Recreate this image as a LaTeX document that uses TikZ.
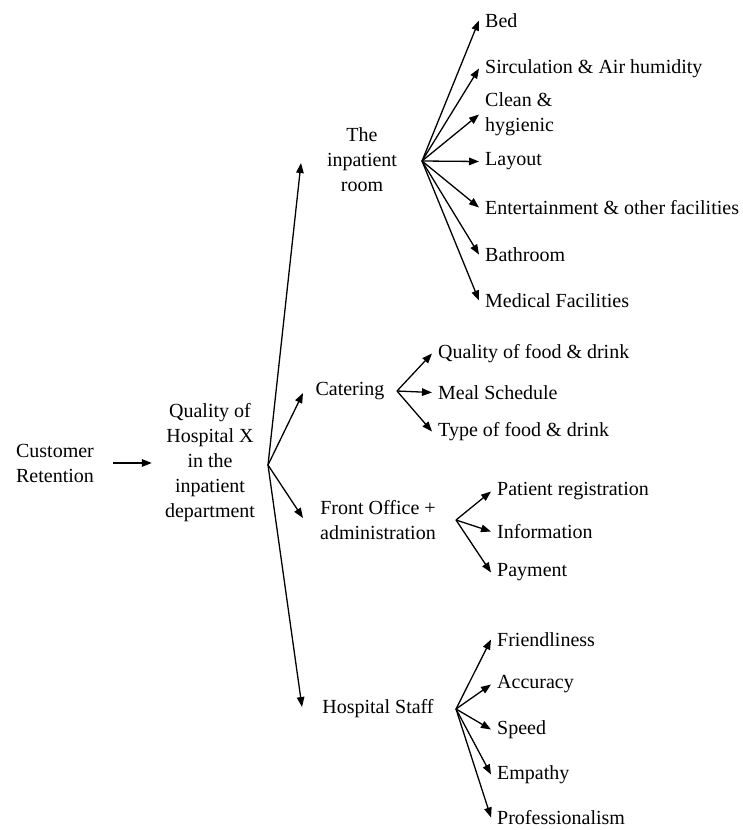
\documentclass[tikz,border=0pt]{standalone}
\usepackage{fontspec}
\setmainfont{Liberation Serif}
\usetikzlibrary{arrows.meta}
\begin{document}
\begin{tikzpicture}[x=1pt,y=-1pt,
  txt/.style={inner sep=0pt, font=\fontsize{20}{25}\selectfont, align=center},
  leaf/.style={inner xsep=6pt, inner ysep=0pt, font=\fontsize{20}{25}\selectfont, anchor=west, align=left, yshift=-1.5pt},
  arr/.style={-{Triangle[length=10pt,width=7.5pt]}, line width=1.3pt}]
\useasboundingbox (0,0) rectangle (742,830);
% main nodes
\node[txt] (cr) at (55,463) {Customer\\Retention};
\node[txt] (q) at (210,463) {Quality of\\Hospital X\\in the\\inpatient\\department};
\node[txt] (room) at (362,160) {The\\inpatient\\room};
\node[txt] (cat) at (350,391) {Catering};
\node[txt] (fo) at (378,520) {Front Office +\\administration};
\node[txt] (staff) at (378,709) {Hospital Staff};
% hubs and tips
\coordinate (qh) at (268,465);
\coordinate (roomh) at (422,161);
\coordinate (cath) at (397,391);
\coordinate (foh) at (456,520);
\coordinate (staffh) at (456,709);
\coordinate (troom) at (301,163);
\coordinate (tcat) at (303,393);
\coordinate (tfo) at (303,518);
\coordinate (tstaff) at (302,707);
% leaves of room
\node[leaf] (bed) at (479,19) {Bed};
\node[leaf] (sirc) at (479,67) {Sirculation \& Air humidity};
\node[leaf] (clean) at (479,113) {Clean \&\\hygienic};
\node[leaf] (lay) at (479,160) {Layout};
\node[leaf] (ent) at (479,206) {Entertainment \& other facilities};
\node[leaf] (bath) at (479,253) {Bathroom};
\node[leaf] (med) at (479,299) {Medical Facilities};
% leaves of catering
\node[leaf] (qf) at (432,352) {Quality of food \& drink};
\node[leaf] (meal) at (432,391) {Meal Schedule};
\node[leaf] (type) at (432,430) {Type of food \& drink};
% leaves of front office
\node[leaf] (pr) at (491,490) {Patient registration};
\node[leaf] (info) at (491,530) {Information};
\node[leaf] (pay) at (491,571) {Payment};
% leaves of staff
\node[leaf] (fr) at (491,638) {Friendliness};
\node[leaf] (acc) at (491,683) {Accuracy};
\node[leaf] (sp) at (491,728) {Speed};
\node[leaf] (emp) at (491,773) {Empathy};
\node[leaf] (prof) at (491,816) {Professionalism};
% arrows
\draw[arr] ([xshift=19pt]cr.east) -- ([xshift=-13pt]q.west);
\foreach \t in {troom,tcat,tfo,tstaff} \draw[arr] (qh) -- (\t);
\foreach \l in {bed,sirc,clean,lay,ent,bath,med} \draw[arr] (roomh) -- (\l.west);
\foreach \l in {qf,meal,type} \draw[arr] (cath) -- (\l.west);
\foreach \l in {pr,info,pay} \draw[arr] (foh) -- (\l.west);
\foreach \l in {fr,acc,sp,emp,prof} \draw[arr] (staffh) -- (\l.west);
\end{tikzpicture}
\end{document}
